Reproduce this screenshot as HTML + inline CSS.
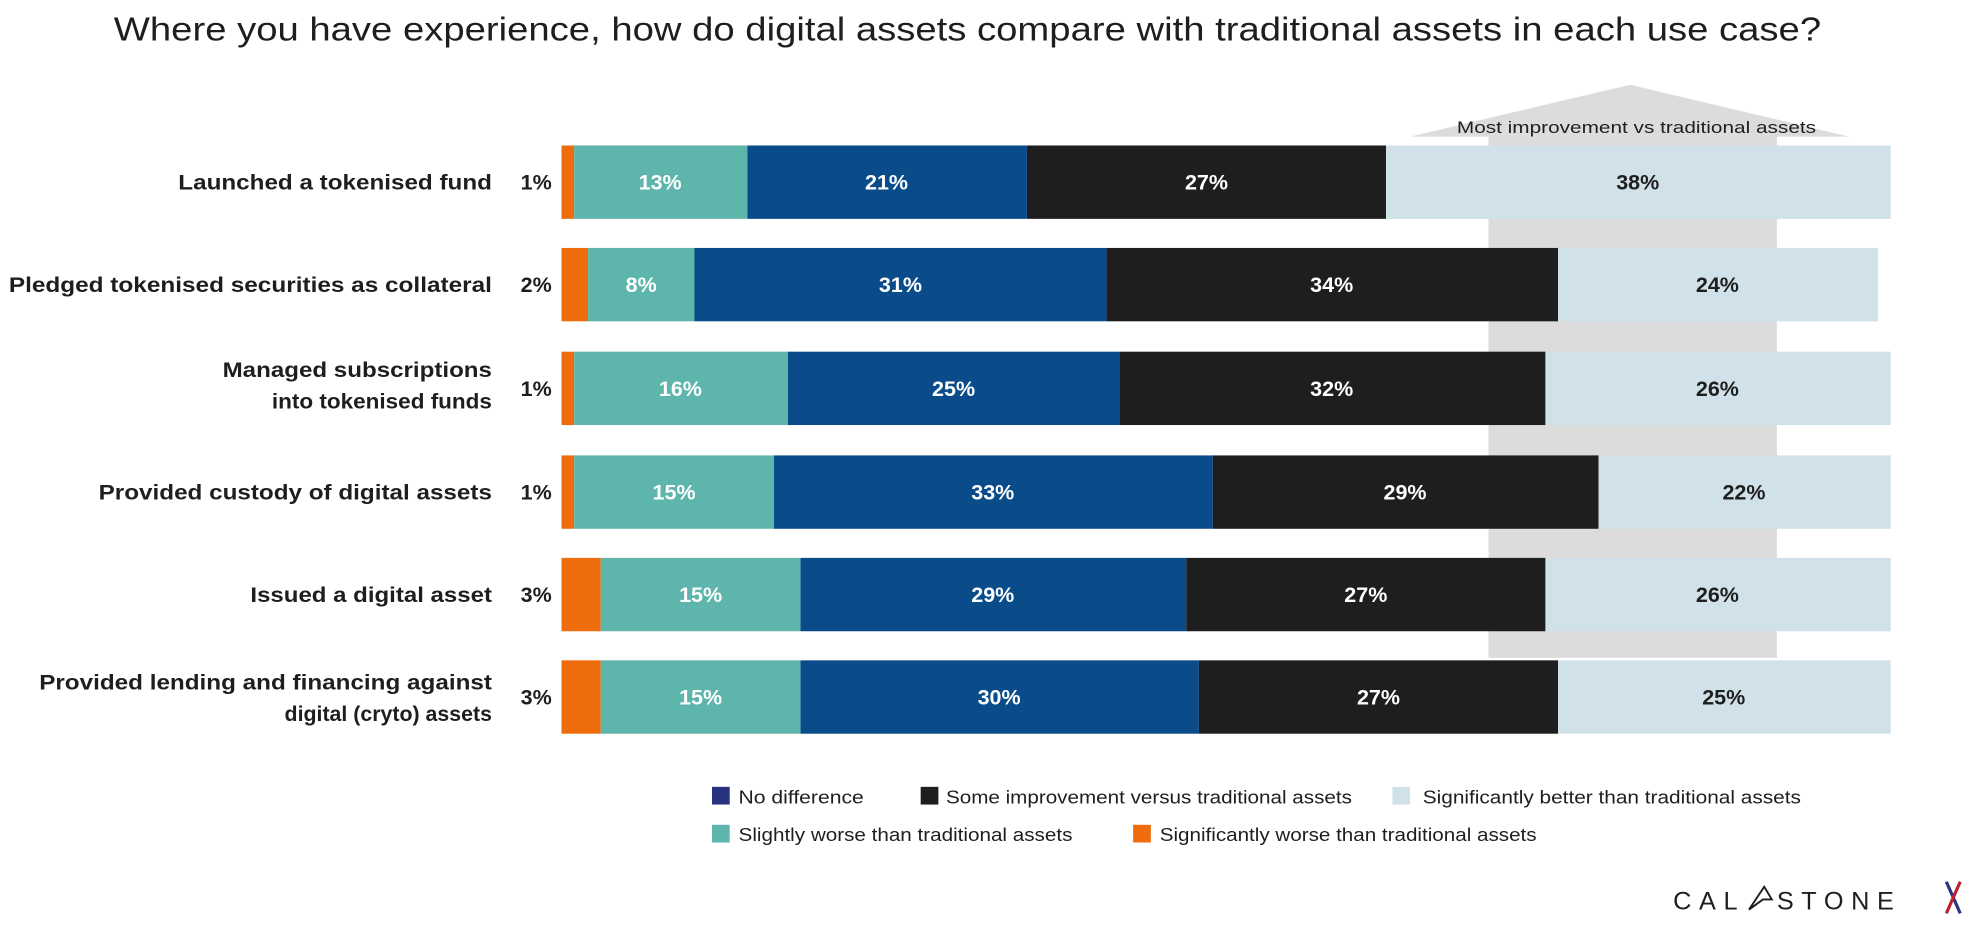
<!DOCTYPE html>
<html><head><meta charset="utf-8"><style>
html,body{margin:0;padding:0;background:#fff;}
svg{display:block;}
text{font-family:"Liberation Sans",sans-serif;}
</style></head><body>
<svg width="1983" height="926" viewBox="0 0 1568 732" preserveAspectRatio="none" xmlns="http://www.w3.org/2000/svg">
<rect width="1568" height="732" fill="#fff"/>
<text x="765" y="32" font-size="26" text-anchor="middle" fill="#1e1e1e" textLength="1350" lengthAdjust="spacingAndGlyphs">Where you have experience, how do digital assets compare with traditional assets in each use case?</text>
<rect x="1177" y="106" width="228" height="414" fill="#dcdcdc"/>
<polygon points="1115,108 1289,67 1462,108" fill="#dcdcdc"/>
<text x="1294" y="105" font-size="13.5" text-anchor="middle" fill="#1e1e1e" textLength="284" lengthAdjust="spacingAndGlyphs">Most improvement vs traditional assets</text>
<g font-size="17" font-weight="bold" fill="#1e1e1e" text-anchor="end">
<text x="389" y="150" textLength="248" lengthAdjust="spacingAndGlyphs">Launched a tokenised fund</text>
<text x="389" y="231" textLength="382" lengthAdjust="spacingAndGlyphs">Pledged tokenised securities as collateral</text>
<text x="389" y="298" textLength="213" lengthAdjust="spacingAndGlyphs">Managed subscriptions</text>
<text x="389" y="323" textLength="174" lengthAdjust="spacingAndGlyphs">into tokenised funds</text>
<text x="389" y="395" textLength="311" lengthAdjust="spacingAndGlyphs">Provided custody of digital assets</text>
<text x="389" y="476" textLength="191" lengthAdjust="spacingAndGlyphs">Issued a digital asset</text>
<text x="389" y="545" textLength="358" lengthAdjust="spacingAndGlyphs">Provided lending and financing against</text>
<text x="389" y="570" textLength="164" lengthAdjust="spacingAndGlyphs">digital (cryto) assets</text>
</g>
<g font-size="17" font-weight="bold" fill="#1e1e1e" text-anchor="middle">
<text x="424" y="150">1%</text><text x="424" y="231">2%</text><text x="424" y="313">1%</text>
<text x="424" y="395">1%</text><text x="424" y="476">3%</text><text x="424" y="557">3%</text>
</g>
<g>
<rect x="444" y="115" width="10" height="58" fill="#ee6c0c"/><rect x="454" y="115" width="137" height="58" fill="#5eb5ac"/><rect x="591" y="115" width="221" height="58" fill="#0a4c8a"/><rect x="812" y="115" width="284" height="58" fill="#1e1e1e"/><rect x="1096" y="115" width="399" height="58" fill="#d0e1ea"/>
<rect x="444" y="196" width="21" height="58" fill="#ee6c0c"/><rect x="465" y="196" width="84" height="58" fill="#5eb5ac"/><rect x="549" y="196" width="326" height="58" fill="#0a4c8a"/><rect x="875" y="196" width="357" height="58" fill="#1e1e1e"/><rect x="1232" y="196" width="253" height="58" fill="#d0e1ea"/>
<rect x="444" y="278" width="10" height="58" fill="#ee6c0c"/><rect x="454" y="278" width="169" height="58" fill="#5eb5ac"/><rect x="623" y="278" width="262" height="58" fill="#0a4c8a"/><rect x="885" y="278" width="337" height="58" fill="#1e1e1e"/><rect x="1222" y="278" width="273" height="58" fill="#d0e1ea"/>
<rect x="444" y="360" width="10" height="58" fill="#ee6c0c"/><rect x="454" y="360" width="158" height="58" fill="#5eb5ac"/><rect x="612" y="360" width="347" height="58" fill="#0a4c8a"/><rect x="959" y="360" width="305" height="58" fill="#1e1e1e"/><rect x="1264" y="360" width="231" height="58" fill="#d0e1ea"/>
<rect x="444" y="441" width="31" height="58" fill="#ee6c0c"/><rect x="475" y="441" width="158" height="58" fill="#5eb5ac"/><rect x="633" y="441" width="305" height="58" fill="#0a4c8a"/><rect x="938" y="441" width="284" height="58" fill="#1e1e1e"/><rect x="1222" y="441" width="273" height="58" fill="#d0e1ea"/>
<rect x="444" y="522" width="31" height="58" fill="#ee6c0c"/><rect x="475" y="522" width="158" height="58" fill="#5eb5ac"/><rect x="633" y="522" width="315" height="58" fill="#0a4c8a"/><rect x="948" y="522" width="284" height="58" fill="#1e1e1e"/><rect x="1232" y="522" width="263" height="58" fill="#d0e1ea"/>
</g>
<g font-size="17" font-weight="bold" fill="#fff" text-anchor="middle">
<text x="522" y="150">13%</text><text x="701" y="150">21%</text><text x="954" y="150">27%</text>
<text x="507" y="231">8%</text><text x="712" y="231">31%</text><text x="1053" y="231">34%</text>
<text x="538" y="313">16%</text><text x="754" y="313">25%</text><text x="1053" y="313">32%</text>
<text x="533" y="395">15%</text><text x="785" y="395">33%</text><text x="1111" y="395">29%</text>
<text x="554" y="476">15%</text><text x="785" y="476">29%</text><text x="1080" y="476">27%</text>
<text x="554" y="557">15%</text><text x="790" y="557">30%</text><text x="1090" y="557">27%</text>
</g>
<g font-size="17" font-weight="bold" fill="#1e1e1e" text-anchor="middle">
<text x="1295" y="150">38%</text><text x="1358" y="231">24%</text><text x="1358" y="313">26%</text>
<text x="1379" y="395">22%</text><text x="1358" y="476">26%</text><text x="1363" y="557">25%</text>
</g>
<g font-size="14.5" fill="#1e1e1e">
<rect x="563" y="622" width="14" height="14" fill="#28337f"/><text x="584" y="635" textLength="99" lengthAdjust="spacingAndGlyphs">No difference</text>
<rect x="728" y="622" width="14" height="14" fill="#1e1e1e"/><text x="748" y="635" textLength="321" lengthAdjust="spacingAndGlyphs">Some improvement versus traditional assets</text>
<rect x="1101" y="622" width="14" height="14" fill="#d0e1ea"/><text x="1125" y="635" textLength="299" lengthAdjust="spacingAndGlyphs">Significantly better than traditional assets</text>
<rect x="563" y="652" width="14" height="14" fill="#5eb5ac"/><text x="584" y="665" textLength="264" lengthAdjust="spacingAndGlyphs">Slightly worse than traditional assets</text>
<rect x="896" y="652" width="14" height="14" fill="#ee6c0c"/><text x="917" y="665" textLength="298" lengthAdjust="spacingAndGlyphs">Significantly worse than traditional assets</text>
</g>
<text x="1323" y="719" font-size="20" letter-spacing="6" fill="#1e1e1e">CAL</text>
<polygon points="1383,719 1395,701 1401,711 1394,711" fill="none" stroke="#1e1e1e" stroke-width="1.5"/>
<text x="1405" y="719" font-size="20" letter-spacing="6" fill="#1e1e1e">STONE</text>
<line x1="1539" y1="697" x2="1550" y2="722" stroke="#2a3384" stroke-width="2.5"/>
<line x1="1550" y1="697" x2="1539" y2="722" stroke="#c0202c" stroke-width="2.5"/>
</svg>
</body></html>
